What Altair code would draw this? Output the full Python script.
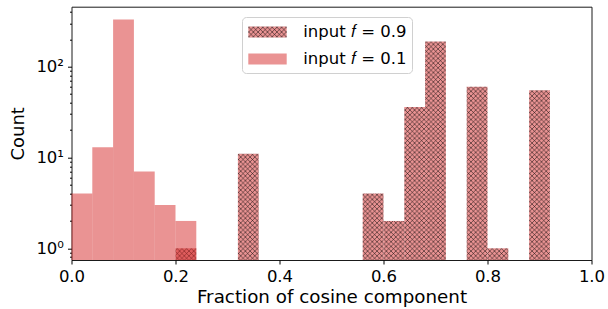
import altair as alt
import pandas as pd
import jinja2

# ---------------- data ----------------
bin_width = 0.04
f09_label = "input 𝑓 = 0.9"
f01_label = "input 𝑓 = 0.1"
series_order = [f09_label, f01_label]

f09_bin_start = [0.20, 0.32, 0.56, 0.60, 0.64, 0.68, 0.76, 0.80, 0.88]
f09_counts = [1, 11, 4, 2, 36, 190, 60, 1, 55]

f01_bin_start = [0.00, 0.04, 0.08, 0.12, 0.16, 0.20]
f01_counts = [4, 13, 330, 7, 3, 2]

x_ticks = [0.0, 0.2, 0.4, 0.6, 0.8, 1.0]
y_domain = [0.743, 458]
y_major = [1, 10, 100]
y_minor = [0.8, 0.9, 2, 3, 4, 5, 6, 7, 8, 9, 20, 30, 40, 50, 60, 70, 80, 90, 200, 300, 400]

# ---------------- table ----------------
rows = []
for s, c in zip(f09_bin_start, f09_counts):
    rows.append({"series": f09_label, "start": s, "end": round(s + bin_width, 2), "count": c, "base": y_domain[0]})
for s, c in zip(f01_bin_start, f01_counts):
    rows.append({"series": f01_label, "start": s, "end": round(s + bin_width, 2), "count": c, "base": y_domain[0]})
df = pd.DataFrame(rows)

FONT = "DejaVu Sans"

color_scale = alt.Scale(domain=series_order, range=["url(#hatch)", "rgba(214,39,40,0.5)"])

bars = alt.Chart(df).mark_bar(strokeWidth=0, opacity=1).encode(
    x=alt.X(
        "start:Q",
        scale=alt.Scale(domain=[0, 1], nice=False, zero=False),
        axis=alt.Axis(
            values=x_ticks, format=".1f", title="Fraction of cosine component",
            labelFontSize=16.5, titleFontSize=18.3, tickSize=4, labelPadding=4,
            titlePadding=4, labelFlush=False, grid=False, domain=False,
        ),
    ),
    x2="end:Q",
    y=alt.Y(
        "count:Q",
        scale=alt.Scale(type="log", domain=y_domain, nice=False),
        axis=alt.Axis(
            values=y_major + y_minor, title="Count",
            labelExpr="datum.value == 1 ? '10⁰' : datum.value == 10 ? '10¹' : datum.value == 100 ? '10²' : ''",
            tickSize={"condition": {"test": "indexof([1, 10, 100], datum.value) >= 0", "value": 4}, "value": 2},
            labelFontSize=16.5, titleFontSize=18, labelPadding=4, titlePadding=8,
            labelOverlap=False, grid=False, domain=False,
        ),
    ),
    y2="base:Q",
    fill=alt.Fill(
        "series:N", scale=color_scale, sort=series_order,
        legend=alt.Legend(
            title=None, orient="none", legendX=170.5, legendY=10.3,
            padding=5, rowPadding=8,
            symbolType="M-1.92,-0.55H1.92V0.55H-1.92Z", symbolSize=400,
            symbolOffset=10.5, labelOffset=25.7, symbolStrokeWidth=0,
            labelFontSize=16.5, labelFont=FONT, labelColor="black",
            fillColor="rgba(255,255,255,0.8)", strokeColor="#d0d0d0", cornerRadius=4,
        ),
    ),
)

chart = bars.properties(
    width=520, height=253.3,
    autosize=alt.AutoSizeParams(type="none"),
    padding={"left": 71.5, "top": 6.7, "right": 16.5, "bottom": 49},
).configure_view(
    stroke="#1a1a1a", strokeWidth=1
).configure_axis(
    labelFont=FONT, titleFont=FONT, labelColor="black", titleColor="black",
    titleFontWeight="normal", tickColor="black", tickWidth=1,
)

TEMPLATE = jinja2.Template("""<!DOCTYPE html>
<html>
<head>
  <meta charset="utf-8">
  <style>
    html { overflow: hidden; }
    body { margin: 0; }
    #{{ output_div }}.vega-embed { width: 100%; display: flex; }
    #{{ output_div }}.vega-embed svg { flex-shrink: 0; }
    #{{ output_div }}.vega-embed details,
    #{{ output_div }}.vega-embed details summary { position: relative; }
  </style>
  <script type="text/javascript" src="{{ base_url }}/vega@{{ vega_version }}"></script>
  <script type="text/javascript" src="{{ base_url }}/vega-lite@{{ vegalite_version }}"></script>
  <script type="text/javascript" src="{{ base_url }}/vega-embed@{{ vegaembed_version }}"></script>
</head>
<body>
  <svg width="0" height="0" style="position:absolute">
    <defs>
      <pattern id="hatch" patternUnits="userSpaceOnUse" width="4.7" height="4.7">
        <rect width="4.7" height="4.7" fill="#d62728" fill-opacity="0.5"></rect>
        <path d="M-4.7,-4.7L9.4,9.4M-4.7,0L4.7,9.4M0,-4.7L9.4,4.7M-4.7,9.4L9.4,-4.7M-4.7,4.7L4.7,-4.7M0,9.4L9.4,0"
              stroke="#000" stroke-width="0.5" fill="none"></path>
      </pattern>
    </defs>
  </svg>
  <div id="{{ output_div }}"></div>
  <script type="text/javascript">
    (function(vegaEmbed) {
      var spec = {{ spec }};
      var embedOpt = {{ embed_options }};
      function showError(el, error) {
        el.innerHTML = ('<div style="color:red;"><p>JavaScript Error: ' + error.message + '</p></div>');
        throw error;
      }
      const el = document.getElementById('{{ output_div }}');
      vegaEmbed("#{{ output_div }}", spec, embedOpt).catch(error => showError(el, error));
    })(vegaEmbed);
  </script>
</body>
</html>
""")

chart.save("out.html", embed_options={"renderer": "svg", "actions": False}, template=TEMPLATE)
